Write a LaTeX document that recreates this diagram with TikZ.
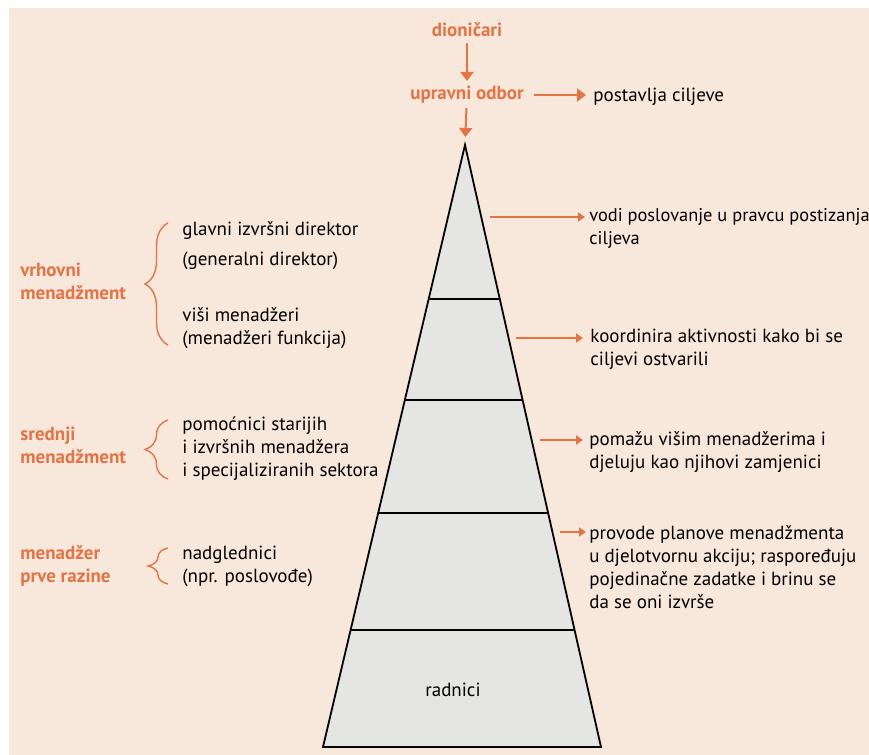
\documentclass[tikz,border=0pt]{standalone}
\usepackage{fontspec}
\setmainfont{PT Sans}
\usetikzlibrary{arrows.meta,decorations.pathreplacing}
\definecolor{paper}{RGB}{248,231,219}
\definecolor{rust}{RGB}{226,116,70}
\definecolor{pyr}{RGB}{229,229,227}
\begin{document}
\begin{tikzpicture}[x=0.5pt,y=-0.5pt,
    every node/.style={font=\fontsize{9.5}{11.5}\selectfont,inner sep=0pt},
    txt/.style={anchor=west,align=left},
    lvl/.style={anchor=west,align=left,text=rust,font=\fontsize{9.5}{11.5}\selectfont\bfseries},
    arr/.style={draw=rust,line width=1pt,-{Triangle[length=4.5pt,width=6.5pt]}},
    arrs/.style={draw=rust,line width=1pt,-{Triangle[length=3.5pt,width=4.5pt]}},
    brc/.style={draw=rust,line width=0.7pt,decorate,decoration={brace,amplitude=11.5pt}}]
  \useasboundingbox (0,0) rectangle (869,755);
  \fill[white] (0,0) rectangle (869,755);
  \fill[paper] (9,8) rectangle (869,755);
  % pyramid
  \coordinate (apex) at (465,145);
  \coordinate (br) at (601,747);
  \coordinate (bl) at (323,747);
  \fill[pyr] (apex) -- (br) -- (bl) -- cycle;
  \begin{scope}
    \clip (apex) -- (br) -- (bl) -- cycle;
    \foreach \y in {299,400,513,630}
      \draw[line width=0.9pt] (300,\y) -- (620,\y);
  \end{scope}
  \draw[line width=0.9pt,line join=miter] (apex) -- (br) -- (bl) -- cycle;
  \node (rad) at (453,690) {radnici};
  % top
  \node[lvl,anchor=center] (dion) at (467,30) {dioničari};
  \node[lvl,anchor=center] (odbor) at (467,95) {upravni odbor};
  \node[txt] (post) at (593,97) {postavlja ciljeve};
  \draw[arr,shorten <=3pt,shorten >=2.5pt] (dion) -- (odbor);
  \draw[arr,shorten <=2pt,shorten >=4pt] (odbor) -- (apex);
  \draw[arr,shorten <=5pt,shorten >=3.5pt] (odbor.east) -- (odbor.east -| post.west);
  % right
  \node[txt,font=\fontsize{9.2}{11.5}\selectfont] (t1) at (589,228.5) {vodi poslovanje u pravcu postizanja\\ciljeva};
  \node[txt] (t2) at (590,349) {koordinira aktivnosti kako bi se\\ciljevi ostvarili};
  \node[txt] (t3) at (589,452) {pomažu višim menadžerima i\\djeluju kao njihovi zamjenici};
  \node[txt] (t4) at (589,567) {provode planove menadžmenta\\u djelotvornu akciju; raspoređuju\\pojedinačne zadatke i brinu se\\da se oni izvrše};
  \coordinate (a1) at (490,217);
  \coordinate (a2) at (516,338);
  \coordinate (a3) at (540,440);
  \coordinate (a4) at (560,532);
  \draw[arrs,shorten >=2pt] (a1) -- (a1 -| t1.west);
  \draw[arrs,shorten >=3.5pt] (a2) -- (a2 -| t2.west);
  \draw[arrs,shorten >=3pt] (a3) -- (a3 -| t3.west);
  \draw[arrs,shorten >=1.5pt] (a4) -- (a4 -| t4.west);
  % left
  \node[lvl] (vrh) at (20,281.5) {vrhovni\\menadžment};
  \node[lvl] (sred) at (20,445.5) {srednji\\menadžment};
  \node[lvl] (prva) at (20,565.5) {menadžer\\prve razine};
  \draw[brc] (168,345) -- (168,223);
  \draw[brc] (168,479) -- (168,420);
  \draw[brc,decoration={amplitude=10pt}] (168,584) -- (168,548);
  \node[txt] (gid) at (182,231) {glavni izvršni direktor};
  \node[txt] (gen) at (182,261) {(generalni direktor)};
  \node[txt] (vm) at (182,328) {viši menadžeri\\(menadžeri funkcija)};
  \node[txt] (pom) at (182,449) {pomoćnici starijih\\i izvršnih menadžera\\i specijaliziranih sektora};
  \node[txt] (nad) at (182,566.5) {nadglednici\\(npr. poslovođe)};
\end{tikzpicture}
\end{document}
